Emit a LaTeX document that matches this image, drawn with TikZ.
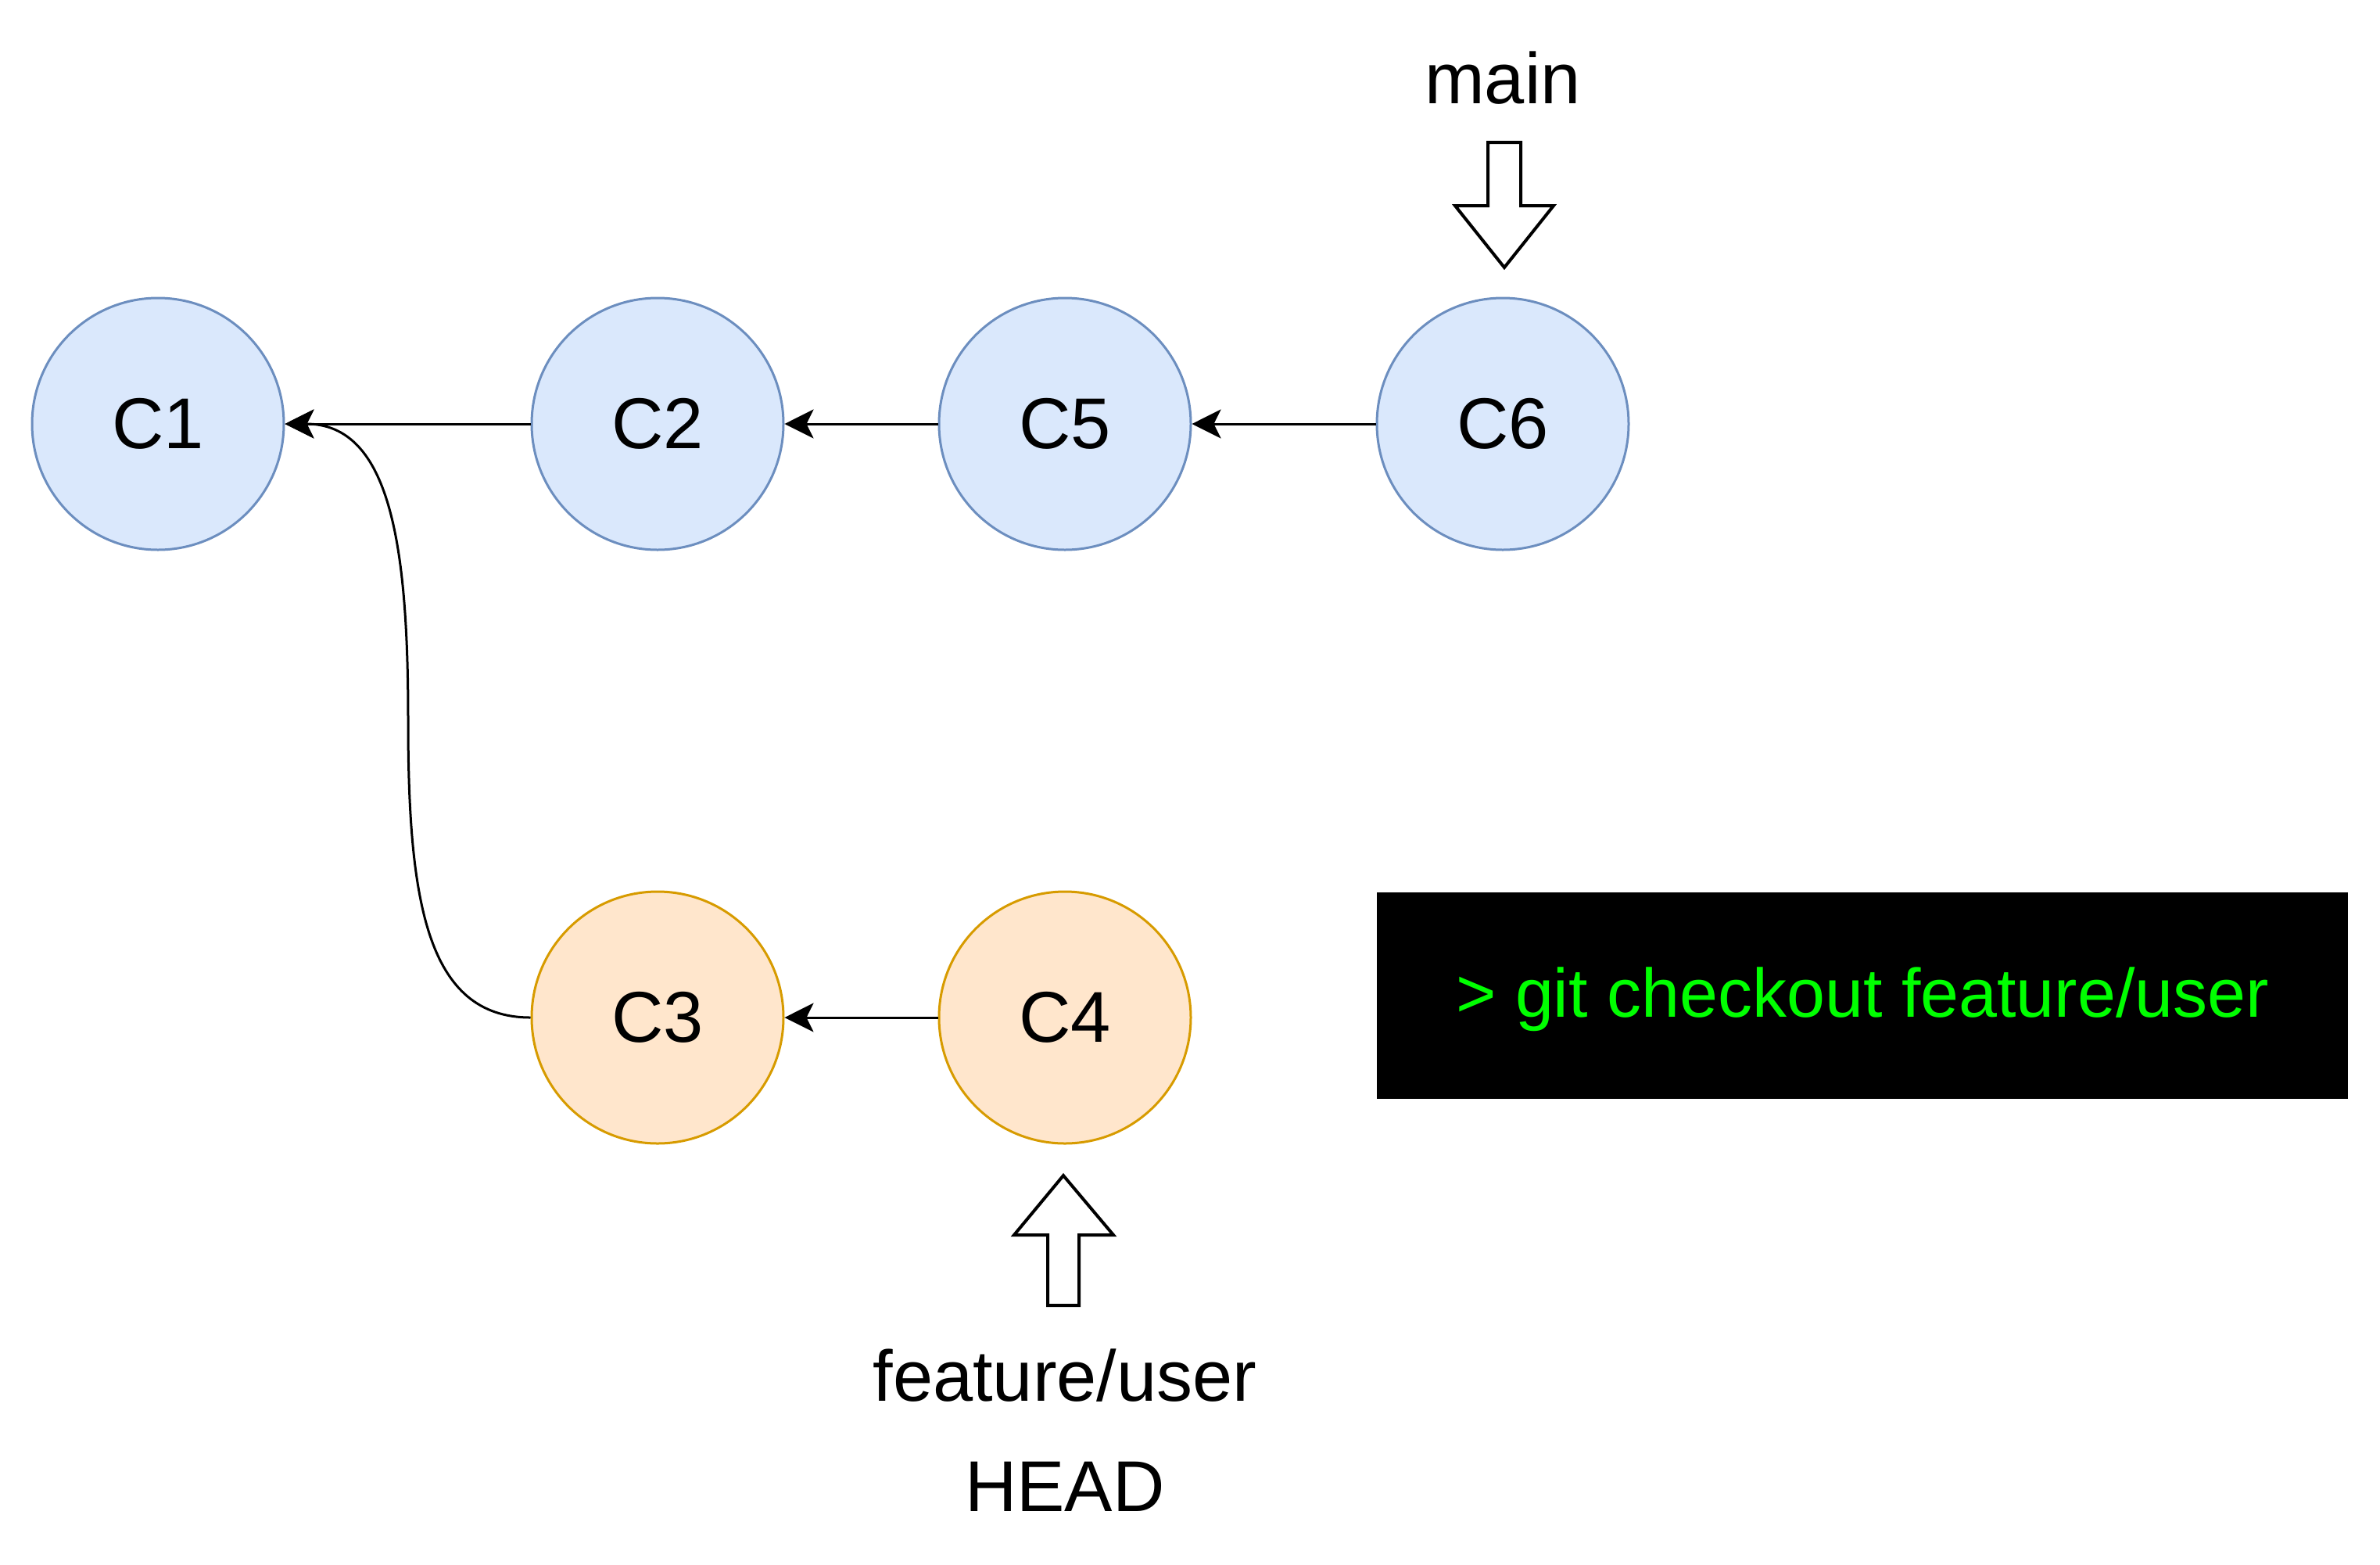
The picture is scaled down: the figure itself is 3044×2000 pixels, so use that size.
\documentclass[tikz,border=0pt]{standalone}
\usepackage{fontspec}
\setmainfont{Liberation Sans}
\usetikzlibrary{arrows.meta}
\definecolor{bluefill}{HTML}{DAE8FC}
\definecolor{bluedraw}{HTML}{6C8EBF}
\definecolor{orangefill}{HTML}{FFE6CC}
\definecolor{orangedraw}{HTML}{D79B00}
\definecolor{termgreen}{HTML}{00FF00}
\begin{document}
\begin{tikzpicture}[x=1pt,y=-1pt,
  commit/.style={circle,minimum size=322pt,inner sep=0pt,line width=3pt,
    font=\fontsize{92}{110}\selectfont},
  maincommit/.style={commit,draw=bluedraw,fill=bluefill},
  featcommit/.style={commit,draw=orangedraw,fill=orangefill},
  parent/.style={line width=3pt,-{Stealth[length=37pt,width=37pt,inset=9pt]}},
  label/.style={anchor=base,inner sep=0pt,font=\fontsize{92}{110}\selectfont},
  blockarrow/.style={draw=black,fill=white,line width=4pt,line join=miter},
  termbox/.style={fill=black,text=termgreen,minimum width=1242pt,minimum height=264pt,
    inner sep=0pt,text height=66pt,text depth=12pt,font=\fontsize{88}{105}\selectfont}]
\useasboundingbox (0,0) rectangle (3044,2000);

\node[maincommit] (c1) at (202,542) {C1};
\node[maincommit] (c2) at (841,542) {C2};
\node[maincommit] (c5) at (1362,542) {C5};
\node[maincommit] (c6) at (1922,542) {C6};
\node[featcommit] (c3) at (841,1301) {C3};
\node[featcommit] (c4) at (1362,1301) {C4};

\draw[parent] (c2.west) -- (c1.east);
\draw[parent] (c5.west) -- (c2.east);
\draw[parent] (c6.west) -- (c5.east);
\draw[parent] (c4.west) -- (c3.east);
\draw[parent] (c3.west) .. controls (545,1301) and (522,1150) .. (522,921)
  .. controls (522,700) and (500,542) .. (c1.east);

\node[label] (mainlbl) at (1922,132) {main};
\draw[blockarrow] (1903,182) -- (1945,182) -- (1945,263) -- (1987,263) -- (1924,342)
  -- (1861,263) -- (1903,263) -- cycle;

\draw[blockarrow] (1360,1503) -- (1424,1579) -- (1380,1579) -- (1380,1669) -- (1340,1669)
  -- (1340,1579) -- (1297,1579) -- cycle;
\node[label] (featlbl) at (1362,1791) {feature/user};
\node[label] (headlbl) at (1362,1932) {HEAD};

\node[termbox] (cmd) at (2382,1273) {> git checkout feature/user};
\end{tikzpicture}
\end{document}
